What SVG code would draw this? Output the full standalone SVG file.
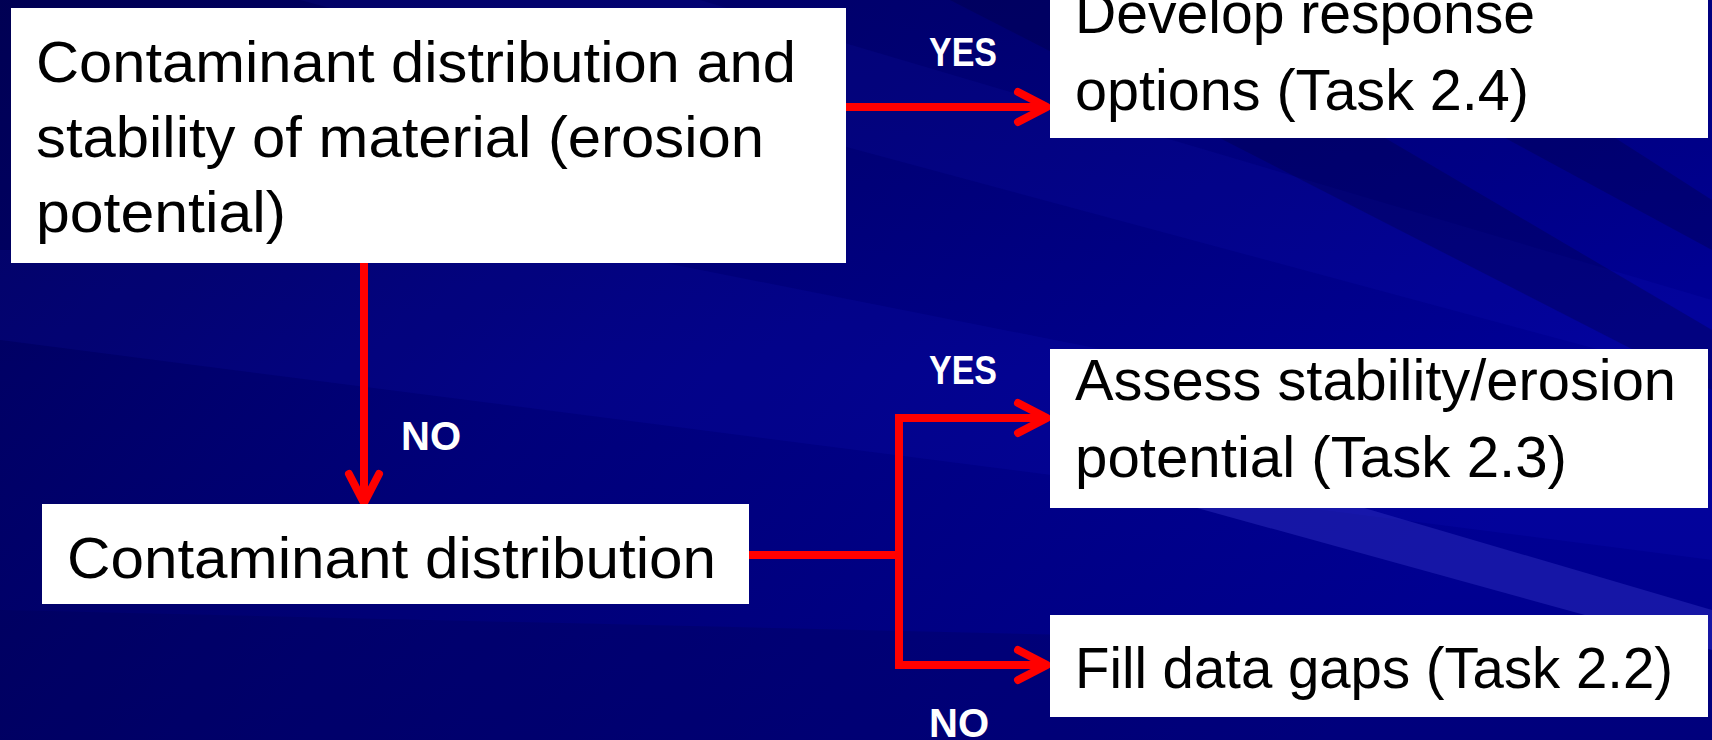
<svg xmlns="http://www.w3.org/2000/svg" width="1712" height="740" viewBox="0 0 1712 740">
  <defs>
    <linearGradient id="bg" x1="0" y1="0" x2="1" y2="0.35">
      <stop offset="0" stop-color="#00005a"/>
      <stop offset="0.45" stop-color="#00007c"/>
      <stop offset="1" stop-color="#000098"/>
    </linearGradient>
    <linearGradient id="bgv" x1="0" y1="0" x2="0" y2="1">
      <stop offset="0" stop-color="#000040" stop-opacity="0.25"/>
      <stop offset="0.5" stop-color="#000040" stop-opacity="0"/>
      <stop offset="1" stop-color="#000040" stop-opacity="0.15"/>
    </linearGradient>
    <style>
      .box { fill: #ffffff; }
      .t { font-family: "Liberation Sans", Arial, sans-serif; font-size: 58px; fill: #000000; }
      .lbl { font-family: "Liberation Sans", Arial, sans-serif; font-size: 40px; font-weight: bold; fill: #ffffff; }
      .ln { fill: none; stroke: #ff0000; stroke-width: 8; }
      .hd { fill: none; stroke: #ff0000; stroke-width: 8; stroke-linecap: round; stroke-linejoin: round; }
    </style>
  </defs>

  <g id="background">
    <rect x="0" y="0" width="1712" height="740" fill="url(#bg)"/>
    <rect x="0" y="0" width="1712" height="740" fill="url(#bgv)"/>
    <polygon points="0,250 600,250 1712,470 1712,560 0,340" fill="#2a2aff" opacity="0.08"/>
    <polygon points="300,0 700,0 1712,300 1712,380" fill="#3030ff" opacity="0.07"/>
    <polygon points="1150,495 1320,495 1712,610 1712,650" fill="#3030c0" opacity="0.45"/>
    <polygon points="950,0 1150,0 1712,330 1712,390" fill="#000040" opacity="0.3"/>
    <polygon points="1250,0 1400,0 1712,200 1712,250" fill="#000040" opacity="0.3"/>
    <polygon points="0,610 1712,650 1712,740 0,740" fill="#000050" opacity="0.25"/>
  </g>

  <g id="connectors">
    <path class="ln" d="M846,107 H1046"/>
    <path class="hd" d="M1018,92 L1047,107 L1018,122"/>
    <path class="ln" d="M364,263 V502"/>
    <path class="hd" d="M349,474 L364,503 L379,474"/>
    <path class="ln" d="M749,555 H899"/>
    <path class="ln" d="M899,414 V669"/>
    <path class="ln" d="M895,418 H1046"/>
    <path class="ln" d="M895,665 H1046"/>
    <path class="hd" d="M1018,403 L1047,418 L1018,433"/>
    <path class="hd" d="M1018,650 L1047,665 L1018,680"/>
  </g>

  <g id="node-contaminant-stability">
    <rect class="box" x="11" y="8" width="835" height="255"/>
    <text class="t" x="36" y="82" textLength="760" lengthAdjust="spacingAndGlyphs">Contaminant distribution and</text>
    <text class="t" x="36" y="157" textLength="728" lengthAdjust="spacingAndGlyphs">stability of material (erosion</text>
    <text class="t" x="36" y="232" textLength="250" lengthAdjust="spacingAndGlyphs">potential)</text>
  </g>

  <g id="node-develop-response">
    <rect class="box" x="1050" y="-5" width="658" height="143"/>
    <text class="t" x="1075" y="33" textLength="460" lengthAdjust="spacingAndGlyphs">Develop response</text>
    <text class="t" x="1075" y="110" textLength="454" lengthAdjust="spacingAndGlyphs">options (Task 2.4)</text>
  </g>

  <g id="node-contaminant-distribution">
    <rect class="box" x="42" y="504" width="707" height="100"/>
    <text class="t" x="67" y="578" textLength="649" lengthAdjust="spacingAndGlyphs">Contaminant distribution</text>
  </g>

  <g id="node-assess-stability">
    <rect class="box" x="1050" y="349" width="658" height="159"/>
    <text class="t" x="1075" y="400" textLength="601" lengthAdjust="spacingAndGlyphs">Assess stability/erosion</text>
    <text class="t" x="1075" y="477" textLength="492" lengthAdjust="spacingAndGlyphs">potential (Task 2.3)</text>
  </g>

  <g id="node-fill-data-gaps">
    <rect class="box" x="1050" y="615" width="658" height="102"/>
    <text class="t" x="1075" y="688" textLength="598" lengthAdjust="spacingAndGlyphs">Fill data gaps (Task 2.2)</text>
  </g>

  <g id="labels">
    <text class="lbl" x="929" y="66" textLength="68" lengthAdjust="spacingAndGlyphs">YES</text>
    <text class="lbl" x="929" y="384" textLength="68" lengthAdjust="spacingAndGlyphs">YES</text>
    <text class="lbl" x="401" y="450" textLength="60" lengthAdjust="spacingAndGlyphs">NO</text>
    <text class="lbl" x="929" y="737" textLength="60" lengthAdjust="spacingAndGlyphs">NO</text>
  </g>
</svg>
